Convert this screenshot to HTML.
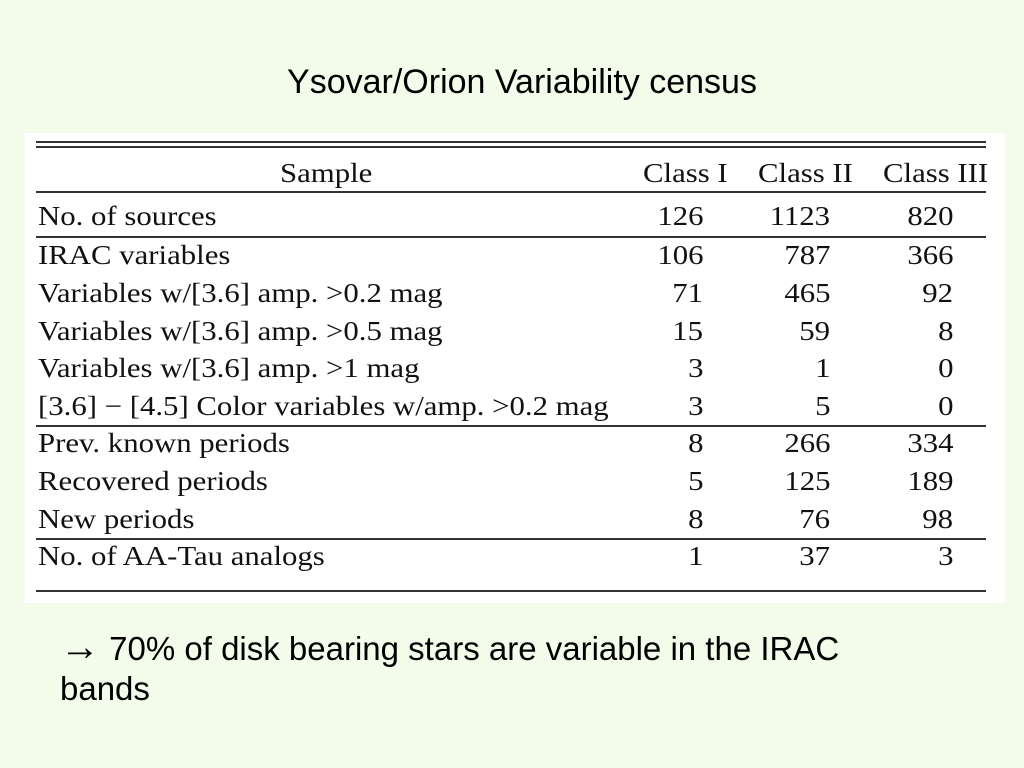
<!DOCTYPE html>
<html><head><style>
body{margin:0;width:1024px;height:768px;background:#f3fbea;position:relative;overflow:hidden;font-family:"Liberation Serif",serif;}
.t{position:absolute;font-family:"Liberation Sans",sans-serif;color:#000;white-space:nowrap;}
#box{position:absolute;left:25px;top:133px;width:980px;height:470px;background:#fff;}
.l{position:absolute;left:36px;width:950px;height:2px;background:#333;}
.r{position:absolute;left:0;width:1024px;height:30px;line-height:30px;font-size:27px;color:#111;}
.r span{position:absolute;white-space:nowrap;transform:scaleX(1.14);}
.a{left:38px;transform-origin:left center;}
.c1,.c2,.c3{transform-origin:right center;}
.c1{right:321px}.c2{right:194px}.c3{right:71px}
</style></head><body>
<div class="t" style="left:0;width:1044px;text-align:center;top:63px;font-size:34px;">Ysovar/Orion Variability census</div>
<div id="box"></div>
<div class="l" style="top:141px"></div>
<div class="l" style="top:146px"></div>
<div class="l" style="top:191px"></div>
<div class="l" style="top:236px"></div>
<div class="l" style="top:425px"></div>
<div class="l" style="top:538px"></div>
<div class="l" style="top:590px"></div>
<div class="r" style="top:158px"><span style="left:280px;transform-origin:left center">Sample</span><span style="left:643px;transform-origin:left center">Class I</span><span style="left:758px;transform-origin:left center">Class II</span><span style="left:883px;transform-origin:left center">Class III</span></div>
<div class="r" style="top:201px"><span class="a">No. of sources</span><span class="c1">126</span><span class="c2">1123</span><span class="c3">820</span></div>
<div class="r" style="top:240px"><span class="a">IRAC variables</span><span class="c1">106</span><span class="c2">787</span><span class="c3">366</span></div>
<div class="r" style="top:278px"><span class="a">Variables w/[3.6] amp. &gt;0.2 mag</span><span class="c1">71</span><span class="c2">465</span><span class="c3">92</span></div>
<div class="r" style="top:316px"><span class="a">Variables w/[3.6] amp. &gt;0.5 mag</span><span class="c1">15</span><span class="c2">59</span><span class="c3">8</span></div>
<div class="r" style="top:353px"><span class="a">Variables w/[3.6] amp. &gt;1 mag</span><span class="c1">3</span><span class="c2">1</span><span class="c3">0</span></div>
<div class="r" style="top:391px"><span class="a">[3.6] − [4.5] Color variables w/amp. &gt;0.2 mag</span><span class="c1">3</span><span class="c2">5</span><span class="c3">0</span></div>
<div class="r" style="top:428px"><span class="a">Prev. known periods</span><span class="c1">8</span><span class="c2">266</span><span class="c3">334</span></div>
<div class="r" style="top:466px"><span class="a">Recovered periods</span><span class="c1">5</span><span class="c2">125</span><span class="c3">189</span></div>
<div class="r" style="top:504px"><span class="a">New periods</span><span class="c1">8</span><span class="c2">76</span><span class="c3">98</span></div>
<div class="r" style="top:541px"><span class="a">No. of AA-Tau analogs</span><span class="c1">1</span><span class="c2">37</span><span class="c3">3</span></div>
<div class="t" style="left:60px;top:627px;font-size:33px;line-height:40px;"><b style="font-size:40px;line-height:40px">→</b> 70% of disk bearing stars are variable in the IRAC<br>bands</div>
</body></html>
